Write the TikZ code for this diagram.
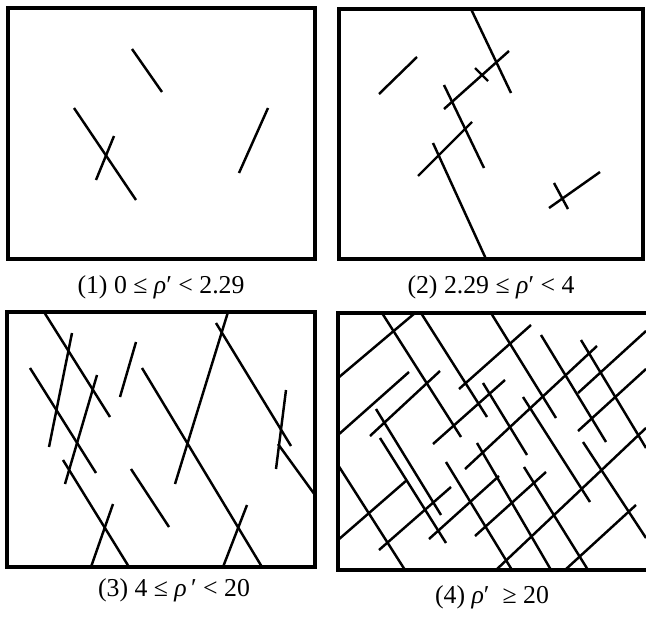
\documentclass[tikz,border=0pt]{standalone}
\usepackage{fontspec}
\setmainfont{Liberation Serif}
\usepackage{tikz}
\usetikzlibrary{positioning}

\begin{document}
\begin{tikzpicture}[x=0.03cm, y=-0.03cm,
  frame/.style={line width=3.4pt},
  crack/.style={line width=2.1pt},
  caption/.style={font=\fontsize{22}{24}\selectfont}]
\useasboundingbox (0,0) rectangle (646,617);

% Panel (1)
\draw[frame] (8,8) rectangle (315,259);
\draw[crack] (132,49) -- (162,92);
\draw[crack] (74,108) -- (136,200);
\draw[crack] (114,136) -- (96,180);
\draw[crack] (268,108) -- (239,173);
\node[caption] (lab1) at (161,287) {(1) 0 ≤ \textit{ρ}′ < 2.29};

% Panel (2)
\draw[frame] (339,9) rectangle (643,259);
\draw[crack] (471,9) -- (511,93);
\draw[crack] (509,51) -- (444,109);
\draw[crack] (475,68) -- (488,81);
\draw[crack] (444,85) -- (484,168);
\draw[crack] (472,122) -- (418,176);
\draw[crack] (433,143) -- (486,259);
\draw[crack] (379,94) -- (417,57);
\draw[crack] (600,172) -- (549,208);
\draw[crack] (554,183) -- (568,209);
\node[caption] (lab2) at (491,287) {(2) 2.29 ≤ \textit{ρ}′ < 4};

% Panel (3)
\draw[frame] (7,312) rectangle (315,567);
\draw[crack] (44,312) -- (110,417);
\draw[crack] (72,333) -- (49,447);
\draw[crack] (30,368) -- (96,473);
\draw[crack] (97,375) -- (65,484);
\draw[crack] (63,460) -- (129,567);
\draw[crack] (113,504) -- (91,567);
\draw[crack] (136,342) -- (120,397);
\draw[crack] (142,368) -- (262,567);
\draw[crack] (131,469) -- (169,527);
\draw[crack] (228,312) -- (175,484);
\draw[crack] (216,323) -- (291,446);
\draw[crack] (286,390) -- (276,469);
\draw[crack] (278,444) -- (315,495);
\draw[crack] (247,505) -- (223,567);
\node[caption] (lab3) at (174,590) {(3) 4 ≤ \textit{ρ}\,′ < 20};

% Panel (4), right side runs off the page
\draw[frame] (338,313) rectangle (650,570);
% down-right cracks
\draw[crack] (382,313) -- (461,437);
\draw[crack] (421,313) -- (487,417);
\draw[crack] (491,313) -- (556,418);
\draw[crack] (541,335) -- (606,442);
\draw[crack] (581,340) -- (646,448);
\draw[crack] (376,409) -- (441,515);
\draw[crack] (380,438) -- (446,543);
\draw[crack] (338,465) -- (405,570);
\draw[crack] (446,462) -- (512,570);
\draw[crack] (483,383) -- (527,455);
\draw[crack] (477,443) -- (551,570);
\draw[crack] (523,397) -- (590,502);
\draw[crack] (524,467) -- (588,570);
\draw[crack] (583,442) -- (646,538);
% up-right cracks
\draw[crack] (338,378) -- (415,313);
\draw[crack] (338,435) -- (409,372);
\draw[crack] (370,436) -- (440,371);
\draw[crack] (459,389) -- (531,325);
\draw[crack] (433,444) -- (505,380);
\draw[crack] (465,469) -- (597,346);
\draw[crack] (578,393) -- (646,331);
\draw[crack] (578,431) -- (646,369);
\draw[crack] (338,540) -- (407,480);
\draw[crack] (379,550) -- (451,487);
\draw[crack] (429,539) -- (499,476);
\draw[crack] (475,536) -- (546,472);
\draw[crack] (496,570) -- (646,428);
\draw[crack] (565,570) -- (636,505);
\node[caption] (lab4) at (492,597) {(4) \textit{ρ}′\ \ ≥ 20};
\end{tikzpicture}
\end{document}
